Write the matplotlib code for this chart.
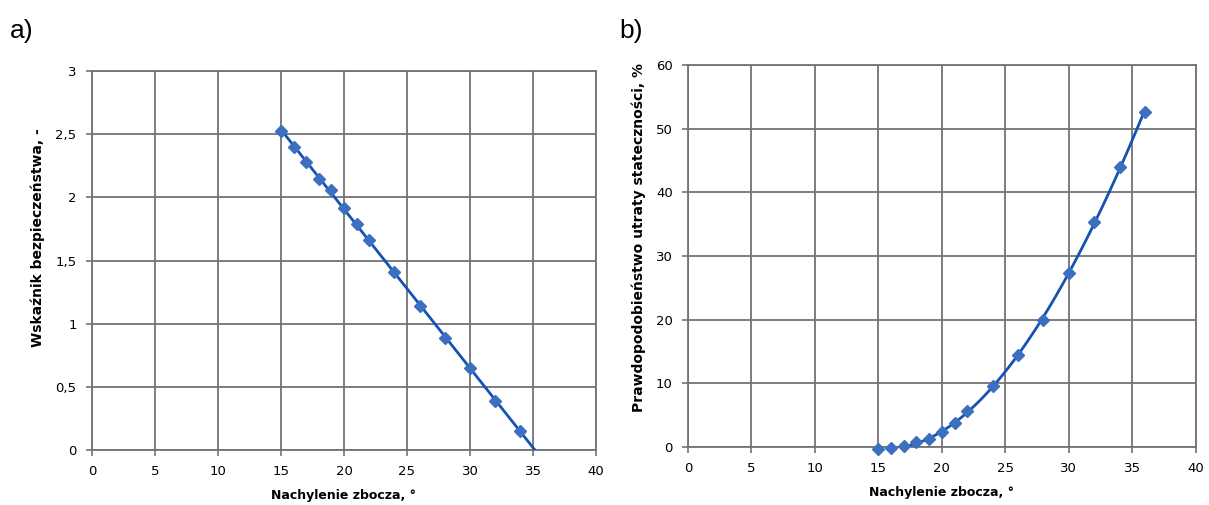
import numpy as np
import matplotlib
matplotlib.use("Agg")
from matplotlib import pyplot as plt

# a) safety factor vs slope angle
nachylenie_a = [15, 16, 17, 18, 19, 20, 21, 22, 24, 26, 28, 30, 32, 34]
wskaznik = [2.53, 2.40, 2.28, 2.15, 2.06, 1.92, 1.79, 1.66, 1.41, 1.14, 0.89, 0.65, 0.39, 0.15]

# b) probability of slope failure vs slope angle
nachylenie_b = [15, 16, 17, 18, 19, 20, 21, 22, 24, 26, 28, 30, 32, 34, 36]
prawdop = [-0.3, -0.2, 0.1, 0.8, 1.3, 2.3, 3.7, 5.6, 9.6, 14.4, 20.0, 27.3, 35.3, 44.0, 52.7]

xticks = [0, 5, 10, 15, 20, 25, 30, 35, 40]
yticks_a = [0, 0.5, 1, 1.5, 2, 2.5, 3]
yticks_a_lab = ["0", "0,5", "1", "1,5", "2", "2,5", "3"]
yticks_b = [0, 10, 20, 30, 40, 50, 60]

line_col = "#1452b4"
mark_col = "#3d6fc0"
grid_col = "#737373"

fig = plt.figure(figsize=(12.09, 5.05), dpi=100)
ax1 = fig.add_axes([0.076, 0.109, 0.417, 0.750])
ax2 = fig.add_axes([0.569, 0.115, 0.420, 0.756])


def style(ax):
    ax.grid(True, color=grid_col, linewidth=1.3)
    ax.set_axisbelow(True)
    for s in ax.spines.values():
        s.set_color(grid_col)
        s.set_linewidth(1.3)
    ax.tick_params(direction="out", length=4, width=1.2, color=grid_col,
                   labelsize=9.5, pad=7)
    ax.set_xlim(0, 40)
    ax.set_xticks(xticks)
    ax.set_xlabel("Nachylenie zbocza, °", fontsize=9, fontweight="bold", labelpad=8)


# panel a - linear trend line
style(ax1)
k = np.polyfit(nachylenie_a, wskaznik, 1)
x_end = -k[1] / k[0]
xx = np.linspace(nachylenie_a[0], x_end, 50)
ax1.plot(xx, np.polyval(k, xx), color=line_col, lw=2, zorder=3)
ax1.plot(nachylenie_a, wskaznik, "D", color=mark_col, ms=6.5, zorder=4, clip_on=False)
ax1.set_ylim(0, 3)
ax1.set_yticks(yticks_a)
ax1.set_yticklabels(yticks_a_lab)
ax1.set_ylabel("Wskaźnik bezpieczeństwa, -", fontsize=10, fontweight="bold")
ax1.yaxis.set_label_coords(-0.093, 0.56)

# panel b - polynomial trend line
style(ax2)
p = np.polyfit(nachylenie_b, prawdop, 3)
xx = np.linspace(16, nachylenie_b[-1], 100)
ax2.plot(xx, np.polyval(p, xx), color=line_col, lw=2, zorder=3)
ax2.plot(nachylenie_b, prawdop, "D", color=mark_col, ms=6.5, zorder=4, clip_on=False)
ax2.set_ylim(0, 60)
ax2.set_yticks(yticks_b)
ax2.set_ylabel("Prawdopodobieństwo utraty stateczności, %", fontsize=10,
               fontweight="bold")
ax2.yaxis.set_label_coords(-0.083, 0.548)

fig.text(0.008, 0.925, "a)", fontsize=19, family="Liberation Sans")
fig.text(0.512, 0.925, "b)", fontsize=19, family="Liberation Sans")

fig.savefig("out.png", dpi=100)
